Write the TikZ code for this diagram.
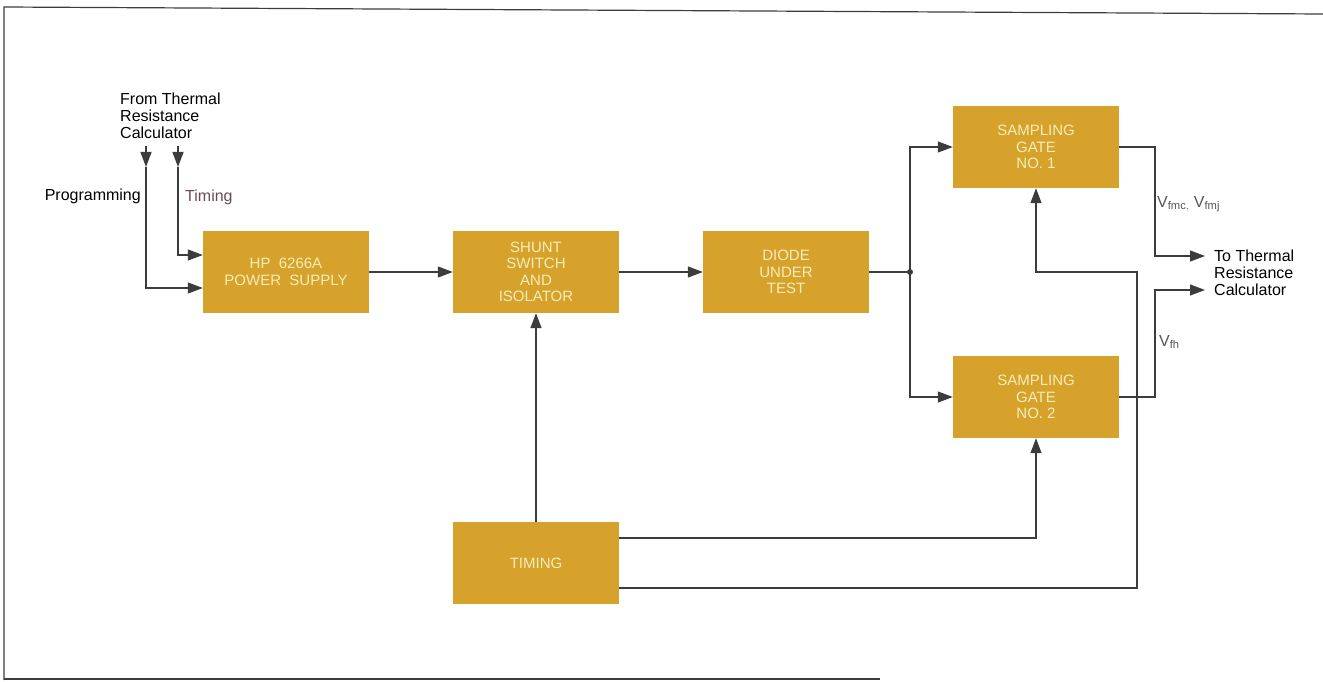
\documentclass[tikz,border=0pt]{standalone}
\usepackage{fontspec}
\setmainfont{Liberation Sans}
\usetikzlibrary{arrows.meta,calc}
\definecolor{boxfill}{HTML}{D6A22C}
\definecolor{boxtext}{HTML}{F8EDB8}
\definecolor{linec}{HTML}{3C3C3C}
\definecolor{timingc}{HTML}{6A4A55}
\definecolor{vlab}{HTML}{555555}
\begin{document}
\begin{tikzpicture}[x=1pt,y=-1pt,
  blk/.style={fill=boxfill,draw=none,minimum width=166pt,minimum height=82pt,inner sep=0pt,
    text=boxtext,font=\fontsize{15}{16.5}\selectfont,align=center},
  wire/.style={draw=linec,line width=1.2pt},
  arr/.style={wire,-{Triangle[length=15pt,width=11pt]}},
  lbl/.style={font=\fontsize{16}{17}\selectfont,inner sep=0pt,align=left}]
\useasboundingbox (0,0) rectangle (1323,682);
% frame
\draw[linec,line width=1.2pt] (4,680) -- (4,7) -- (1323,14);
\draw[linec,line width=1.2pt] (4,679) -- (880,679);

% blocks
\node[blk] (ps) at (286,272) {HP\ \ 6266A\\POWER\ \ SUPPLY};
\node[blk] (sh) at (536,272) {SHUNT\\SWITCH\\AND\\ISOLATOR};
\node[blk] (du) at (786,272) {DIODE\\UNDER\\TEST};
\node[blk] (g1) at (1036,147) {SAMPLING\\GATE\\NO. 1};
\node[blk] (g2) at (1036,397) {SAMPLING\\GATE\\NO. 2};
\node[blk] (tm) at (536,563) {TIMING};

% labels
\node[lbl,anchor=north west] (from) at (120,93) {From Thermal\\Resistance\\Calculator};
\node[lbl,anchor=east] (prog) at (141,196) {Programming};
\node[lbl,anchor=west,text=timingc] (tlab) at (185,197) {Timing};
\node[lbl,anchor=west] (to) at (1214,273) {To Thermal\\Resistance\\Calculator};
\node[lbl,anchor=west,text=vlab] (vfm) at (1157,204) {V$_{\mathrm{fmc,}}$ V$_{\mathrm{fmj}}$};
\node[lbl,anchor=west,text=vlab] (vfh) at (1159,342) {V$_{\mathrm{fh}}$};

% input coordinates
\coordinate (pin) at (146,146);
\coordinate (pmid) at (146,167);
\coordinate (tin) at (178,146);
\coordinate (tmid) at (178,167);
\draw[arr] (pin) -- (pmid);
\draw[arr] (tin) -- (tmid);
\draw[arr] (pmid) -- (146,288) -- (ps.west|-0,288);
\draw[arr] (tmid) -- (178,255) -- (ps.west|-0,255);

% main chain
\draw[arr] (ps) -- (sh);
\draw[arr] (sh) -- (du);
\coordinate (jn) at (910,272);
\draw[wire] (du.east) -- (jn);
\draw[arr] (jn) |- (g1.west);
\draw[arr] (jn) |- (g2.west);
\fill[linec] (jn) circle (3pt);

% timing
\draw[arr] (tm) -- (sh);
\draw[arr] (tm.east|-0,538) -| (g2.south);
\draw[arr] (tm.east|-0,588) -| (1137,272) -| (g1.south);

% outputs
\coordinate (o1) at (1205,256);
\coordinate (o2) at (1205,290);
\draw[arr] (g1.east) -| (1155,256) -- (o1);
\draw[arr] (g2.east) -| (1155,290) -- (o2);
\end{tikzpicture}
\end{document}
